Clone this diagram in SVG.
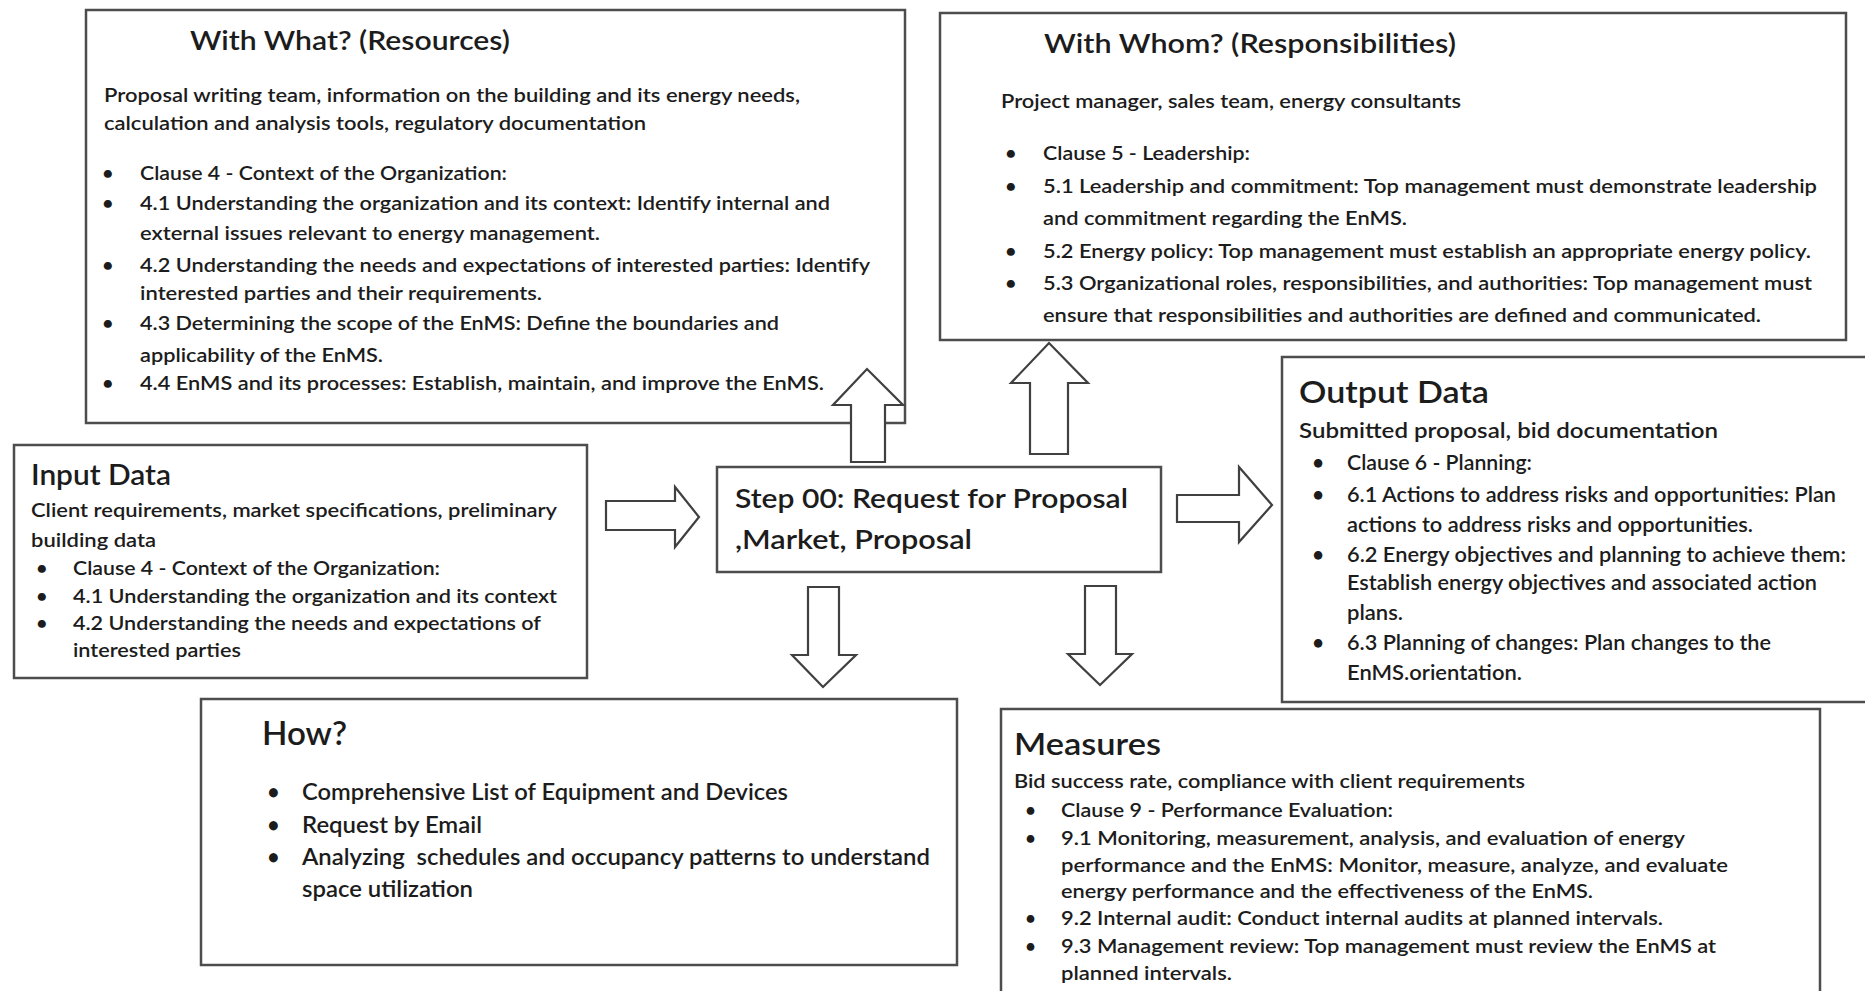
<svg xmlns="http://www.w3.org/2000/svg" width="1865" height="991" viewBox="0 0 1865 991">
  <style>
    .box { fill: #ffffff; stroke: #4d4d4d; stroke-width: 2.5; }
    .arrow { fill: #ffffff; stroke: #404040; stroke-width: 2.2; stroke-linejoin: miter; }
    text { font-family: Lato, "Open Sans", "Liberation Sans", sans-serif; font-weight: 600; fill: #1c1c1c; }
    .h1 { font-size: 26px; }
    .h2 { font-size: 30px; }
    .h3 { font-size: 33px; }
    .step { font-size: 27px; }
    .b20 { font-size: 20px; }
    .b21 { font-size: 21px; }
    .b19 { font-size: 19px; }
    .b22 { font-size: 22px; }
  </style>
  <rect x="0" y="0" width="1865" height="991" fill="#ffffff"/>

  <!-- Resources -->
  <g id="with-what">
    <rect class="box" x="86" y="10" width="819" height="413"/>
    <text class="h1" x="190" y="50" textLength="320" lengthAdjust="spacingAndGlyphs">With What? (Resources)</text>
    <g class="b20">
      <text x="104" y="102" textLength="696" lengthAdjust="spacingAndGlyphs">Proposal writing team, information on the building and its energy needs,</text>
      <text x="104" y="130" textLength="542" lengthAdjust="spacingAndGlyphs">calculation and analysis tools, regulatory documentation</text>
      <text x="102" y="180">•</text>
      <text x="140" y="180" textLength="367" lengthAdjust="spacingAndGlyphs">Clause 4 - Context of the Organization:</text>
      <text x="102" y="210">•</text>
      <text x="140" y="210" textLength="690" lengthAdjust="spacingAndGlyphs">4.1 Understanding the organization and its context: Identify internal and</text>
      <text x="140" y="240" textLength="460" lengthAdjust="spacingAndGlyphs">external issues relevant to energy management.</text>
      <text x="102" y="272">•</text>
      <text x="140" y="272" textLength="730" lengthAdjust="spacingAndGlyphs">4.2 Understanding the needs and expectations of interested parties: Identify</text>
      <text x="140" y="300" textLength="402" lengthAdjust="spacingAndGlyphs">interested parties and their requirements.</text>
      <text x="102" y="330">•</text>
      <text x="140" y="330" textLength="639" lengthAdjust="spacingAndGlyphs">4.3 Determining the scope of the EnMS: Define the boundaries and</text>
      <text x="140" y="362" textLength="243" lengthAdjust="spacingAndGlyphs">applicability of the EnMS.</text>
      <text x="102" y="390">•</text>
      <text x="140" y="390" textLength="684" lengthAdjust="spacingAndGlyphs">4.4 EnMS and its processes: Establish, maintain, and improve the EnMS.</text>
    </g>
  </g>

  <!-- Responsibilities -->
  <g id="with-whom">
    <rect class="box" x="940" y="13" width="906" height="327"/>
    <text class="h1" x="1044" y="53" textLength="412" lengthAdjust="spacingAndGlyphs">With Whom? (Responsibilities)</text>
    <g class="b20">
      <text x="1001" y="108" textLength="460" lengthAdjust="spacingAndGlyphs">Project manager, sales team, energy consultants</text>
      <text x="1005" y="160">•</text>
      <text x="1043" y="160" textLength="207" lengthAdjust="spacingAndGlyphs">Clause 5 - Leadership:</text>
      <text x="1005" y="193">•</text>
      <text x="1043" y="193" textLength="774" lengthAdjust="spacingAndGlyphs">5.1 Leadership and commitment: Top management must demonstrate leadership</text>
      <text x="1043" y="225" textLength="364" lengthAdjust="spacingAndGlyphs">and commitment regarding the EnMS.</text>
      <text x="1005" y="258">•</text>
      <text x="1043" y="258" textLength="768" lengthAdjust="spacingAndGlyphs">5.2 Energy policy: Top management must establish an appropriate energy policy.</text>
      <text x="1005" y="290">•</text>
      <text x="1043" y="290" textLength="769" lengthAdjust="spacingAndGlyphs">5.3 Organizational roles, responsibilities, and authorities: Top management must</text>
      <text x="1043" y="322" textLength="718" lengthAdjust="spacingAndGlyphs">ensure that responsibilities and authorities are defined and communicated.</text>
    </g>
  </g>

  <!-- Inputs -->
  <g id="input-data">
    <rect class="box" x="14" y="445" width="573" height="233"/>
    <text class="h1" x="31" y="485" textLength="140" lengthAdjust="spacingAndGlyphs" style="font-size:28px">Input Data</text>
    <g class="b20">
      <text x="31" y="517" textLength="526" lengthAdjust="spacingAndGlyphs">Client requirements, market specifications, preliminary</text>
      <text x="31" y="547" textLength="125" lengthAdjust="spacingAndGlyphs">building data</text>
      <text x="36" y="575">•</text>
      <text x="73" y="575" textLength="367" lengthAdjust="spacingAndGlyphs">Clause 4 - Context of the Organization:</text>
      <text x="36" y="603">•</text>
      <text x="73" y="603" textLength="484" lengthAdjust="spacingAndGlyphs">4.1 Understanding the organization and its context</text>
      <text x="36" y="630">•</text>
      <text x="73" y="630" textLength="468" lengthAdjust="spacingAndGlyphs">4.2 Understanding the needs and expectations of</text>
      <text x="73" y="657" textLength="168" lengthAdjust="spacingAndGlyphs">interested parties</text>
    </g>
  </g>

  <!-- Central step -->
  <g id="step-00">
    <rect class="box" x="717" y="467" width="444" height="105"/>
    <text class="step" x="735" y="508" textLength="393" lengthAdjust="spacingAndGlyphs">Step 00: Request for Proposal</text>
    <text class="step" x="735" y="549" textLength="237" lengthAdjust="spacingAndGlyphs">,Market, Proposal</text>
  </g>

  <!-- Outputs -->
  <g id="output-data">
    <rect class="box" x="1282" y="357" width="600" height="345"/>
    <text class="h2" x="1299" y="403" textLength="190" lengthAdjust="spacingAndGlyphs">Output Data</text>
    <g class="b21">
      <text x="1299" y="438" textLength="419" lengthAdjust="spacingAndGlyphs">Submitted proposal, bid documentation</text>
      <text x="1312" y="470">•</text>
      <text x="1347" y="470" textLength="185" lengthAdjust="spacingAndGlyphs">Clause 6 - Planning:</text>
      <text x="1312" y="502">•</text>
      <text x="1347" y="502" textLength="489" lengthAdjust="spacingAndGlyphs">6.1 Actions to address risks and opportunities: Plan</text>
      <text x="1347" y="532" textLength="406" lengthAdjust="spacingAndGlyphs">actions to address risks and opportunities.</text>
      <text x="1312" y="562">•</text>
      <text x="1347" y="562" textLength="499" lengthAdjust="spacingAndGlyphs">6.2 Energy objectives and planning to achieve them:</text>
      <text x="1347" y="590" textLength="470" lengthAdjust="spacingAndGlyphs">Establish energy objectives and associated action</text>
      <text x="1347" y="620" textLength="56" lengthAdjust="spacingAndGlyphs">plans.</text>
      <text x="1312" y="650">•</text>
      <text x="1347" y="650" textLength="424" lengthAdjust="spacingAndGlyphs">6.3 Planning of changes: Plan changes to the</text>
      <text x="1347" y="680" textLength="175" lengthAdjust="spacingAndGlyphs">EnMS.orientation.</text>
    </g>
  </g>

  <!-- Methods -->
  <g id="how">
    <rect class="box" x="201" y="699" width="756" height="266"/>
    <text class="h3" x="262" y="745" textLength="85" lengthAdjust="spacingAndGlyphs">How?</text>
    <g class="b22">
      <text x="267" y="800">•</text>
      <text x="302" y="800" textLength="486" lengthAdjust="spacingAndGlyphs">Comprehensive List of Equipment and Devices</text>
      <text x="267" y="833">•</text>
      <text x="302" y="833" textLength="180" lengthAdjust="spacingAndGlyphs">Request by Email</text>
      <text x="267" y="865">•</text>
      <text x="302" y="865" textLength="628" lengthAdjust="spacingAndGlyphs" xml:space="preserve">Analyzing  schedules and occupancy patterns to understand</text>
      <text x="302" y="897" textLength="171" lengthAdjust="spacingAndGlyphs">space utilization</text>
    </g>
  </g>

  <!-- Indicators -->
  <g id="measures">
    <rect class="box" x="1001" y="709" width="819" height="300"/>
    <text class="h2" x="1014" y="755" textLength="147" lengthAdjust="spacingAndGlyphs">Measures</text>
    <g class="b19">
      <text x="1014" y="788" textLength="511" lengthAdjust="spacingAndGlyphs">Bid success rate, compliance with client requirements</text>
      <text x="1025" y="817">•</text>
      <text x="1061" y="817" textLength="332" lengthAdjust="spacingAndGlyphs">Clause 9 - Performance Evaluation:</text>
      <text x="1025" y="845">•</text>
      <text x="1061" y="845" textLength="624" lengthAdjust="spacingAndGlyphs">9.1 Monitoring, measurement, analysis, and evaluation of energy</text>
      <text x="1061" y="872" textLength="667" lengthAdjust="spacingAndGlyphs">performance and the EnMS: Monitor, measure, analyze, and evaluate</text>
      <text x="1061" y="898" textLength="532" lengthAdjust="spacingAndGlyphs">energy performance and the effectiveness of the EnMS.</text>
      <text x="1025" y="925">•</text>
      <text x="1061" y="925" textLength="602" lengthAdjust="spacingAndGlyphs">9.2 Internal audit: Conduct internal audits at planned intervals.</text>
      <text x="1025" y="953">•</text>
      <text x="1061" y="953" textLength="655" lengthAdjust="spacingAndGlyphs">9.3 Management review: Top management must review the EnMS at</text>
      <text x="1061" y="980" textLength="171" lengthAdjust="spacingAndGlyphs">planned intervals.</text>
    </g>
  </g>

  <!-- Block arrows linking the step to each panel -->
  <g id="connectors">
    <polygon class="arrow" points="851,462 851,405 833,405 867,369 903,405 885,405 885,462"/>
    <polygon class="arrow" points="1030,454 1030,383 1011,383 1049,343 1088,383 1068,383 1068,454"/>
    <polygon class="arrow" points="606,501 675,501 675,487 699,517 675,547 675,530 606,530"/>
    <polygon class="arrow" points="1177,495 1239,495 1239,467 1272,505 1239,542 1239,522 1177,522"/>
    <polygon class="arrow" points="808,587 839,587 839,655 856,655 823,687 792,655 808,655"/>
    <polygon class="arrow" points="1085,586 1116,586 1116,654 1132,654 1100,685 1068,654 1085,654"/>
  </g>
</svg>
